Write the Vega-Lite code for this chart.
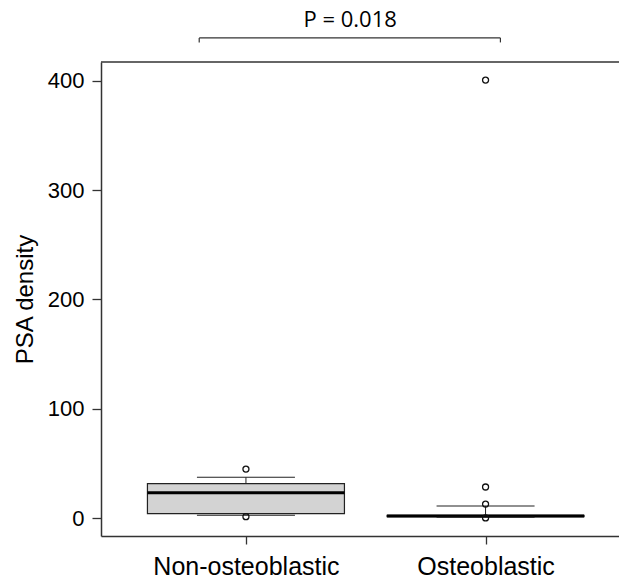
{
  "$schema": "https://vega.github.io/schema/vega-lite/v6.json",
  "width": 518,
  "height": 474,
  "autosize": {"type": "none"},
  "padding": {"left": 101, "top": 62, "right": 0, "bottom": 42},
  "background": "white",
  "config": {"view": {"stroke": null}, "axis": {"grid": false}},
  "datasets": {
    "boxes": [
      {"group": "Non-osteoblastic", "pos": 1, "lower": 2.7, "q1": 4.2, "median": 23.4, "q3": 31.6, "upper": 37.5},
      {"group": "Osteoblastic", "pos": 2, "lower": 0.9, "q1": 1.5, "median": 2.0, "q3": 2.6, "upper": 11.2}
    ],
    "outliers": [
      {"group": "Non-osteoblastic", "pos": 1, "value": 45.0},
      {"group": "Non-osteoblastic", "pos": 1, "value": 1.5},
      {"group": "Osteoblastic", "pos": 2, "value": 400.6},
      {"group": "Osteoblastic", "pos": 2, "value": 28.6},
      {"group": "Osteoblastic", "pos": 2, "value": 13.0},
      {"group": "Osteoblastic", "pos": 2, "value": 0.3}
    ],
    "bracket": [
      {"x": 0.805, "x2": 2.062, "y": 439.1, "y2": 439.1},
      {"x": 0.805, "x2": 0.805, "y": 439.1, "y2": 435.0},
      {"x": 2.062, "x2": 2.062, "y": 439.1, "y2": 435.0}
    ],
    "ptext": [
      {"x": 1.435, "y": 448.8, "label": "P = 0.018"}
    ]
  },
  "layer": [
    {
      "data": {"name": "boxes"},
      "mark": {"type": "rule", "color": "#222", "strokeWidth": 1},
      "encoding": {
        "x": {
          "field": "pos", "type": "quantitative",
          "scale": {"domain": [0.416, 2.536], "nice": false, "zero": false},
          "axis": {
            "values": [1, 2], "title": null,
            "labelExpr": "datum.value == 1 ? 'Non-osteoblastic' : 'Osteoblastic'",
            "labelFont": "Liberation Sans", "labelFontSize": 25, "labelColor": "#000",
            "labelLimit": 0, "labelOverlap": false,
            "labelPadding": 10, "tickSize": 8, "tickColor": "#333", "tickWidth": 1.3,
            "domainColor": "#333", "domainWidth": 1.5
          }
        },
        "y": {
          "field": "q3", "type": "quantitative",
          "scale": {"domain": [-16.2, 417.1], "nice": false, "zero": false},
          "axis": {
            "values": [0, 100, 200, 300, 400], "title": "PSA density",
            "labelFont": "Liberation Sans", "labelFontSize": 22, "labelColor": "#000",
            "labelPadding": 8, "tickSize": 9, "tickColor": "#333", "tickWidth": 1.3,
            "domainColor": "#333", "domainWidth": 1.5,
            "titleFont": "Liberation Sans", "titleFontSize": 24, "titleFontWeight": "normal",
            "titleColor": "#000", "titlePadding": 10
          }
        },
        "y2": {"field": "upper"}
      }
    },
    {
      "data": {"name": "boxes"},
      "mark": {"type": "rule", "color": "#222", "strokeWidth": 1},
      "encoding": {
        "x": {"field": "pos", "type": "quantitative"},
        "y": {"field": "q1", "type": "quantitative"},
        "y2": {"field": "lower"}
      }
    },
    {
      "data": {"name": "boxes"},
      "mark": {"type": "bar", "width": 197, "fill": "#d3d3d3", "stroke": "#222", "strokeWidth": 1.2},
      "encoding": {
        "x": {"field": "pos", "type": "quantitative"},
        "y": {"field": "q1", "type": "quantitative"},
        "y2": {"field": "q3"}
      }
    },
    {
      "data": {"name": "boxes"},
      "mark": {"type": "tick", "orient": "horizontal", "size": 197, "thickness": 3, "color": "#000", "opacity": 1},
      "encoding": {
        "x": {"field": "pos", "type": "quantitative"},
        "y": {"field": "median", "type": "quantitative"}
      }
    },
    {
      "data": {"name": "boxes"},
      "mark": {"type": "tick", "orient": "horizontal", "size": 98, "thickness": 1, "color": "#222", "opacity": 1},
      "encoding": {
        "x": {"field": "pos", "type": "quantitative"},
        "y": {"field": "upper", "type": "quantitative"}
      }
    },
    {
      "data": {"name": "boxes"},
      "mark": {"type": "tick", "orient": "horizontal", "size": 98, "thickness": 1, "color": "#222", "opacity": 1},
      "encoding": {
        "x": {"field": "pos", "type": "quantitative"},
        "y": {"field": "lower", "type": "quantitative"}
      }
    },
    {
      "data": {"name": "outliers"},
      "mark": {"type": "point", "shape": "circle", "filled": false, "size": 36, "stroke": "#111", "strokeWidth": 1.3, "opacity": 1},
      "encoding": {
        "x": {"field": "pos", "type": "quantitative"},
        "y": {"field": "value", "type": "quantitative"}
      }
    },
    {
      "data": {"values": [{"top": 417.1}]},
      "mark": {"type": "rule", "color": "#333", "strokeWidth": 1.5},
      "encoding": {
        "y": {"field": "top", "type": "quantitative"}
      }
    },
    {
      "data": {"name": "bracket"},
      "mark": {"type": "rule", "color": "#333", "strokeWidth": 1.2, "clip": false},
      "encoding": {
        "x": {"field": "x", "type": "quantitative"},
        "x2": {"field": "x2"},
        "y": {"field": "y", "type": "quantitative"},
        "y2": {"field": "y2"}
      }
    },
    {
      "data": {"name": "ptext"},
      "mark": {"type": "text", "font": "Open Sans", "fontSize": 22, "color": "#000", "align": "center", "baseline": "alphabetic", "clip": false},
      "encoding": {
        "x": {"field": "x", "type": "quantitative"},
        "y": {"field": "y", "type": "quantitative"},
        "text": {"field": "label"}
      }
    }
  ]
}
